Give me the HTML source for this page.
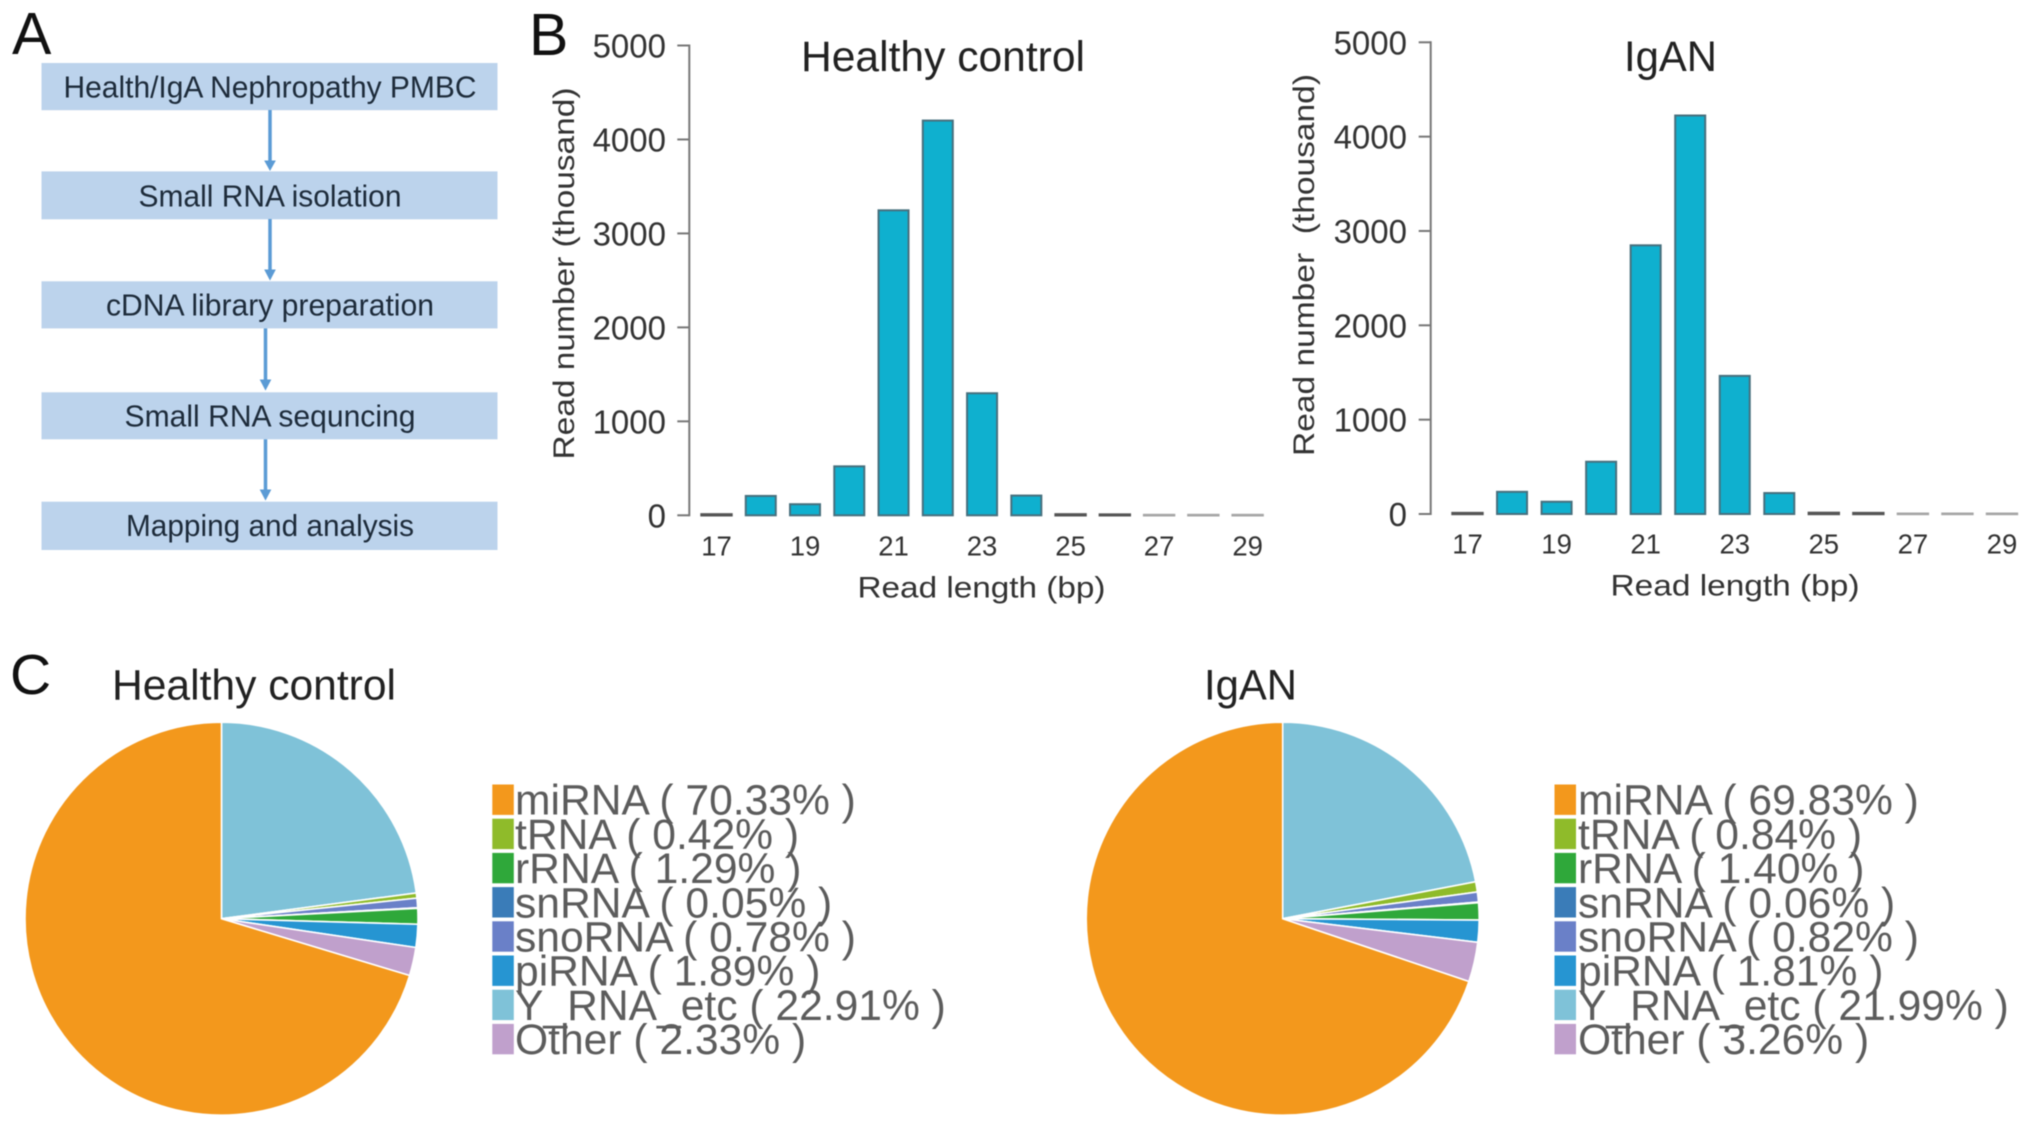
<!DOCTYPE html>
<html lang="en">
<head>
<meta charset="utf-8">
<title>Small RNA sequencing overview</title>
<style>
  html, body { margin: 0; padding: 0; background: #fff; }
  svg { display: block; font-family: "Liberation Sans", Arial, sans-serif; filter: blur(0.6px); }
  text { white-space: pre; }
</style>
</head>
<body>
<svg id="figure" xmlns="http://www.w3.org/2000/svg" width="2031" height="1130" viewBox="0 0 2031 1130">
  <rect width="2031" height="1130" fill="#fff"/>

  <text x="12" y="54" font-size="59" fill="#111">A</text>
  <text x="529" y="55" font-size="59" fill="#111">B</text>
  <text x="10" y="694" font-size="57" fill="#111">C</text>

  <g>
    <rect x="41.5" y="63" width="456" height="47.2" fill="#bcd3ec"/>
    <text x="270" y="97.3" font-size="30.5" fill="#1d2b3a" text-anchor="middle" textLength="413" lengthAdjust="spacingAndGlyphs">Health/IgA Nephropathy PMBC</text>
    <rect x="41.5" y="171.4" width="456" height="47.9" fill="#bcd3ec"/>
    <text x="270" y="206.6" font-size="30.5" fill="#1d2b3a" text-anchor="middle" textLength="263" lengthAdjust="spacingAndGlyphs">Small RNA isolation</text>
    <rect x="41.5" y="281.3" width="456" height="47.1" fill="#bcd3ec"/>
    <text x="270" y="315.7" font-size="30.5" fill="#1d2b3a" text-anchor="middle" textLength="328" lengthAdjust="spacingAndGlyphs">cDNA library preparation</text>
    <rect x="41.5" y="392.3" width="456" height="47" fill="#bcd3ec"/>
    <text x="270" y="426.7" font-size="30.5" fill="#1d2b3a" text-anchor="middle" textLength="291" lengthAdjust="spacingAndGlyphs">Small RNA sequncing</text>
    <rect x="41.5" y="501.7" width="456" height="48.3" fill="#bcd3ec"/>
    <text x="270" y="536" font-size="30.5" fill="#1d2b3a" text-anchor="middle" textLength="288" lengthAdjust="spacingAndGlyphs">Mapping and analysis</text>

    <g fill="#5b9bd5" stroke="#5b9bd5">
      <path d="M270 110V162" stroke-width="3.5" fill="none"/>
      <path d="M265 161H275L270 170Z" stroke-width="1"/>
      <path d="M270 219V271" stroke-width="3.5" fill="none"/>
      <path d="M265 270H275L270 279.5Z" stroke-width="1"/>
      <path d="M265.5 328.4V381" stroke-width="3.5" fill="none"/>
      <path d="M260.5 380H270.5L265.5 389.6Z" stroke-width="1"/>
      <path d="M265.5 439.3V491" stroke-width="3.5" fill="none"/>
      <path d="M260.5 490H270.5L265.5 499.5Z" stroke-width="1"/>
    </g>
  </g>

  <g id="bar-healthy">
    <text x="801" y="71" font-size="42.5" fill="#222" textLength="284" lengthAdjust="spacingAndGlyphs">Healthy control</text>
    <text transform="translate(574 273.5) rotate(-90)" font-size="30" fill="#333" text-anchor="middle" textLength="372" lengthAdjust="spacingAndGlyphs">Read number (thousand)</text>
    <text x="981.5" y="597.5" font-size="30" fill="#333" text-anchor="middle" textLength="248" lengthAdjust="spacingAndGlyphs">Read length (bp)</text>
  </g>

  <g id="bar-igan">
    <text x="1624" y="71" font-size="42.5" fill="#222" textLength="93" lengthAdjust="spacingAndGlyphs">IgAN</text>
    <text transform="translate(1314 265) rotate(-90)" font-size="30" fill="#333" text-anchor="middle" textLength="382" lengthAdjust="spacingAndGlyphs">Read number  (thousand)</text>
    <text x="1735" y="595.5" font-size="30" fill="#333" text-anchor="middle" textLength="249" lengthAdjust="spacingAndGlyphs">Read length (bp)</text>
  </g>

  <g id="pie-healthy">
    <text x="112" y="699.5" font-size="42.5" fill="#222" textLength="284" lengthAdjust="spacingAndGlyphs">Healthy control</text>
  </g>
  <g id="pie-igan">
    <text x="1204" y="699.5" font-size="42.5" fill="#222" textLength="93" lengthAdjust="spacingAndGlyphs">IgAN</text>
  </g>
</svg>

<script>
// Bar chart data
const readLengths = [17, 18, 19, 20, 21, 22, 23, 24, 25, 26, 27, 28, 29];
const healthyReads = [10, 206, 118, 521, 3246, 4201, 1299, 210, 10, 8, 3, 3, 3];
const iganReads = [10, 235, 130, 554, 2848, 4224, 1464, 222, 12, 10, 3, 3, 3];
const yTickValues = [0, 1000, 2000, 3000, 4000, 5000];
const xTickLabels = [17, 19, 21, 23, 25, 27, 29];

// Pie chart data (legend order)
const rnaTypes = ['miRNA', 'tRNA', 'rRNA', 'snRNA', 'snoRNA', 'piRNA', 'Y_RNA_etc', 'Other'];
const healthyPercent = [70.33, 0.42, 1.29, 0.05, 0.78, 1.89, 22.91, 2.33];
const iganPercent = [69.83, 0.84, 1.40, 0.06, 0.82, 1.81, 21.99, 3.26];
const rnaColors = ['#f3981c', '#8fbb2a', '#2fa83a', '#3a7cb8', '#6a80c8', '#2695d2', '#7fc2d8', '#c0a0cc'];
const clockwiseOrder = ['Y_RNA_etc', 'tRNA', 'snoRNA', 'snRNA', 'rRNA', 'piRNA', 'Other', 'miRNA'];

const SVG_NS = 'http://www.w3.org/2000/svg';

function make(parent, tag, attrs, content) {
  const el = document.createElementNS(SVG_NS, tag);
  for (const key in attrs) el.setAttribute(key, attrs[key]);
  if (content !== undefined) el.textContent = content;
  parent.appendChild(el);
  return el;
}

function drawBarChart(groupId, values, geom, slug) {
  const g = document.getElementById(groupId);
  const yScale = v => geom.y0 - v * (geom.y0 - geom.y5000) / 5000;
  const xScale = len => geom.xFirst + (len - readLengths[0]) * geom.pitch;

  const axis = make(g, 'line', { x1: geom.axisX, x2: geom.axisX, y1: yScale(0) + 1, y2: yScale(5000) - 1, stroke: '#777', 'stroke-width': 2 });
  
  

  yTickValues.forEach(v => {
    const tick = make(g, 'line', { x1: geom.axisX - 12, x2: geom.axisX, y1: yScale(v), y2: yScale(v), stroke: '#777', 'stroke-width': 2 });
    
    
    const label = make(g, 'text', { x: geom.yLabelX, y: yScale(v) + 12, 'font-size': 33, fill: '#333', 'text-anchor': 'end' }, String(v));
    
    
  });

  xTickLabels.forEach(len => {
    const label = make(g, 'text', { x: xScale(len), y: geom.xLabelY, 'font-size': 27.5, fill: '#333', 'text-anchor': 'middle' }, String(len));
    
    
  });

  values.forEach((v, i) => {
    const cx = xScale(readLengths[i]);
    const top = yScale(v);
    const faint = v < 5;
    const thin = v < 30;
    const bar = make(g, 'rect', {
      x: cx - geom.barWidth / 2, y: top, width: geom.barWidth, height: yScale(0) - top,
      fill: '#0fb0cf', stroke: faint ? '#a6a6a6' : (thin ? '#555' : '#47707e'), 'stroke-width': thin ? 2.4 : 2
    });
    
    
  });
}

function drawPie(groupId, percents, geom, slug) {
  const g = document.getElementById(groupId);
  const total = percents.reduce((a, b) => a + b, 0);
  const toAngle = p => (p / total) * 2 * Math.PI;
  const point = a => [geom.cx + geom.r * Math.sin(a), geom.cy - geom.r * Math.cos(a)];

  let cumulative = 0;
  clockwiseOrder.forEach(type => {
    const idx = rnaTypes.indexOf(type);
    const start = toAngle(cumulative);
    cumulative += percents[idx];
    const end = toAngle(cumulative);
    const p0 = point(start);
    const p1 = point(end);
    const large = end - start > Math.PI ? 1 : 0;
    const d = 'M' + geom.cx + ' ' + geom.cy + 'L' + p0[0] + ' ' + p0[1] + 'A' + geom.r + ' ' + geom.r + ' 0 ' + large + ' 1 ' + p1[0] + ' ' + p1[1] + 'Z';
    const slice = make(g, 'path', { d: d, fill: rnaColors[idx], stroke: '#fff', 'stroke-width': 1.6 });
    
    
  });

  rnaTypes.forEach((type, i) => {
    const cy = geom.legendY + i * geom.legendPitch;
    const swatch = make(g, 'rect', { x: geom.swatchX, y: cy - 15.2, width: 21.5, height: 30.4, fill: rnaColors[i] });
    
    
    const label = make(g, 'text', { x: geom.textX, y: cy + 15, 'font-size': 42.6, fill: '#5c5c5c' },
      type + ' ( ' + percents[i].toFixed(2) + '% )');
    
    
  });
}

drawBarChart('bar-healthy', healthyReads,
  { y0: 515.3, y5000: 45.5, axisX: 689.3, yLabelX: 666, xFirst: 716.5, pitch: 44.26, barWidth: 30, xLabelY: 555.5 }, 'healthy');
drawBarChart('bar-igan', iganReads,
  { y0: 514, y5000: 42.3, axisX: 1430.7, yLabelX: 1407, xFirst: 1467.5, pitch: 44.54, barWidth: 30, xLabelY: 553.5 }, 'igan');
drawPie('pie-healthy', healthyPercent,
  { cx: 221.5, cy: 918.7, r: 196.5, swatchX: 492.3, textX: 515, legendY: 799.7, legendPitch: 34.2 }, 'healthy');
drawPie('pie-igan', iganPercent,
  { cx: 1282.7, cy: 918.7, r: 196.5, swatchX: 1554.5, textX: 1578, legendY: 799.7, legendPitch: 34.2 }, 'igan');
</script>
</body>
</html>
